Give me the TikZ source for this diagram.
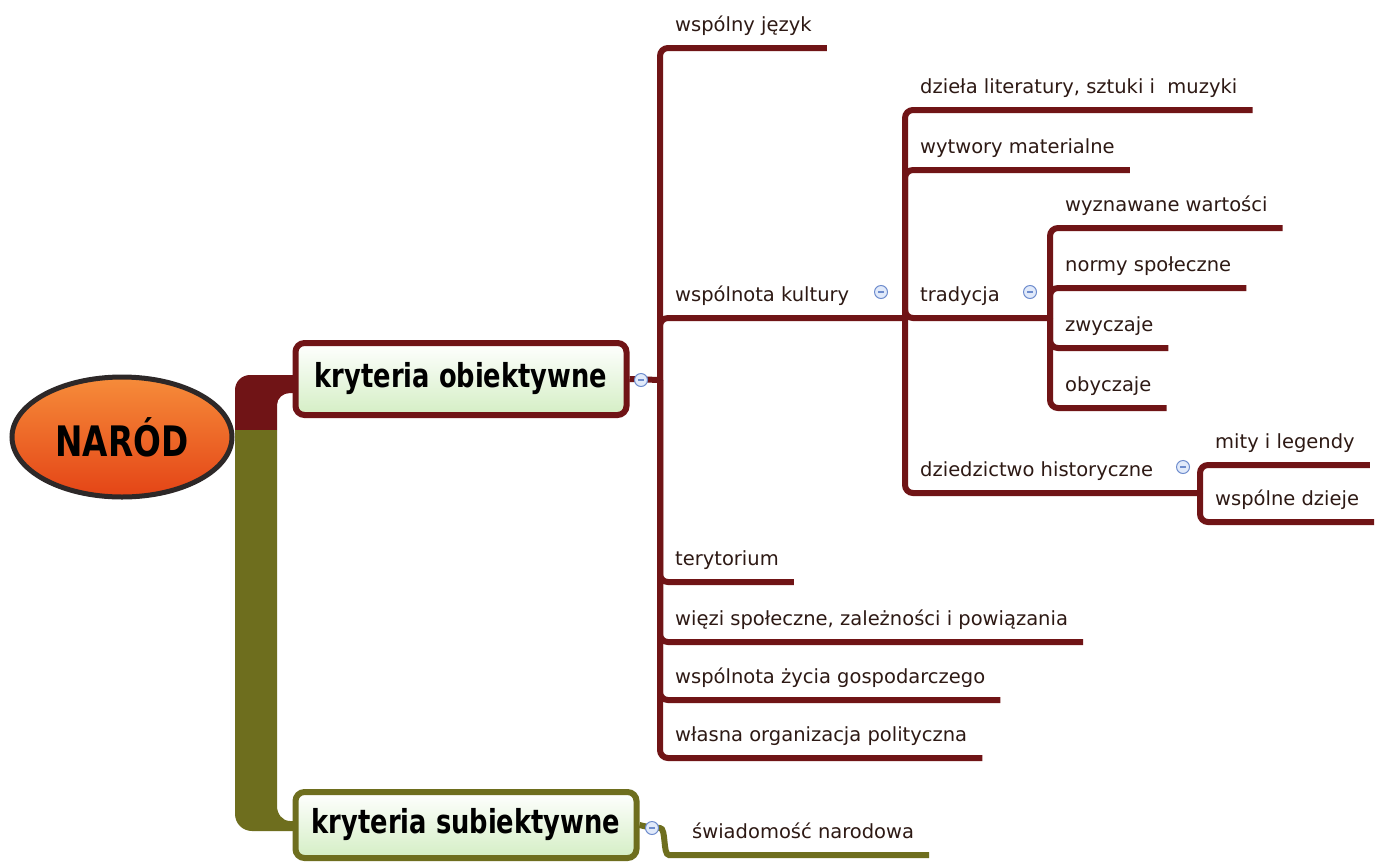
\documentclass[tikz,border=0pt]{standalone}
\usepackage{fontspec}
\setmainfont{DejaVu Sans}
\newfontfamily\titlefont[FakeStretch=0.78]{DejaVu Sans}
\usepackage{tikz}
\usetikzlibrary{calc,positioning,shapes.geometric}
\definecolor{objred}{RGB}{112,20,22}
\definecolor{subjolive}{RGB}{110,110,30}
\definecolor{leaftext}{RGB}{45,25,20}
\definecolor{boxgreen}{RGB}{212,238,196}
\definecolor{narodtop}{RGB}{246,140,58}
\definecolor{narodbot}{RGB}{228,68,22}
\definecolor{narodline}{RGB}{45,40,40}
\definecolor{foldblue}{RGB}{110,140,205}
\definecolor{foldfill}{RGB}{225,234,250}
\tikzset{
  leaf/.style={anchor=south west, inner xsep=15pt, inner ysep=11pt,
               text height=14pt, text depth=5pt, text=leaftext,
               font=\fontsize{19.5}{23}\selectfont},
  branch/.style={draw=objred, line width=6pt, rounded corners=8pt},
  topic/.style={rectangle, rounded corners=9pt, line width=6pt,
                top color=white, bottom color=boxgreen, text=black,
                font=\titlefont\bfseries\fontsize{33}{38}\selectfont},
  fold/.style={circle, draw=foldblue, fill=foldfill, line width=1pt,
               inner sep=0pt, minimum size=13pt,
               path picture={\draw[foldblue, line width=1.6pt]
                 ([xshift=-3pt]path picture bounding box.center) --
                 ([xshift=3pt]path picture bounding box.center);}},
}
\begin{document}
\begin{tikzpicture}[x=1pt,y=-1pt]
\useasboundingbox[fill=white] (0,0) rectangle (1384,863);

% thick branches from the centre
\fill[objred] (235,430) -- (235,390) to[out=90,in=180] (250,375) -- (297,375)
  -- (297,393) -- (290,393) to[out=180,in=90] (277,405) -- (277,430) -- cycle;
\fill[subjolive] (235,430) -- (235,814) to[out=-90,in=180] (252,831) -- (297,831)
  -- (297,821) -- (290,821) to[out=180,in=-90] (277,806) -- (277,430) -- cycle;

\node[ellipse, draw=narodline, line width=5pt, top color=narodtop, bottom color=narodbot,
      minimum width=220pt, minimum height=120pt,
      font=\titlefont\bfseries\fontsize{42}{46}\selectfont] (narod) at (122,437) {NARÓD};

\node[topic, draw=objred, minimum width=331pt, minimum height=72pt] (obj) at (461,379) {kryteria obiektywne};
\node[topic, draw=subjolive, minimum width=341pt, minimum height=66pt] (subj) at (466,825) {kryteria subiektywne};

% kryteria obiektywne
\coordinate (A) at (660,380);
\draw[branch] (obj.east) -- (A);
\node[fold] (objfold) at (641,380) {};

\node[leaf] (jezyk)   at (660,48)  {wspólny język};
\node[leaf] (kultura) at (660,318) {wspólnota kultury};
\node[leaf] (teryt)   at (660,582) {terytorium};
\node[leaf] (wiezi)   at (660,642) {więzi społeczne, zależności i powiązania};
\node[leaf] (gosp)    at (660,700) {wspólnota życia gospodarczego};
\node[leaf] (polit)   at (660,758) {własna organizacja polityczna};
\coordinate (B) at (905,318);
\foreach \n in {jezyk,teryt,wiezi,gosp,polit}
  \draw[branch] (A) |- (\n.south east);
\draw[branch] (A) |- (B);
\node[fold] at ([shift={(-24,-26)}]B) {};

% wspólnota kultury
\node[leaf] (dziela)   at (905,110) {dzieła literatury, sztuki i~~muzyki};
\node[leaf] (wytwory)  at (905,170) {wytwory materialne};
\node[leaf] (tradycja) at (905,318) {tradycja};
\node[leaf] (dziedz)   at (905,493) {dziedzictwo historyczne};
\coordinate (C) at (1050,318);
\coordinate (D) at (1200,493);
\foreach \n in {dziela,wytwory}
  \draw[branch] (B) |- (\n.south east);
\draw[branch] (B) |- (C);
\draw[branch] (B) |- (D);
\node[fold] at ([shift={(-20,-26)}]C) {};
\node[fold] at ([shift={(-17,-26)}]D) {};

% tradycja
\node[leaf] (wartosci) at (1050,228) {wyznawane wartości};
\node[leaf] (normy)    at (1050,288) {normy społeczne};
\node[leaf] (zwyczaje) at (1050,348) {zwyczaje};
\node[leaf] (obyczaje) at (1050,408) {obyczaje};
\foreach \n in {wartosci,normy,zwyczaje,obyczaje}
  \draw[branch] (C) |- (\n.south east);

% dziedzictwo historyczne
\node[leaf] (mity)   at (1200,465) {mity i legendy};
\node[leaf] (dzieje) at (1200,522) {wspólne dzieje};
\foreach \n in {mity,dzieje}
  \draw[branch] (D) |- (\n.south east);

% kryteria subiektywne
\node[leaf] (swiad) at (677,855) {świadomość narodowa};
\draw[branch, draw=subjolive] (subj.east) -- (652,828)
  to[out=0,in=180] (swiad.south west) -- (swiad.south east);
\node[fold] (subjfold) at (652,828) {};
\end{tikzpicture}
\end{document}
